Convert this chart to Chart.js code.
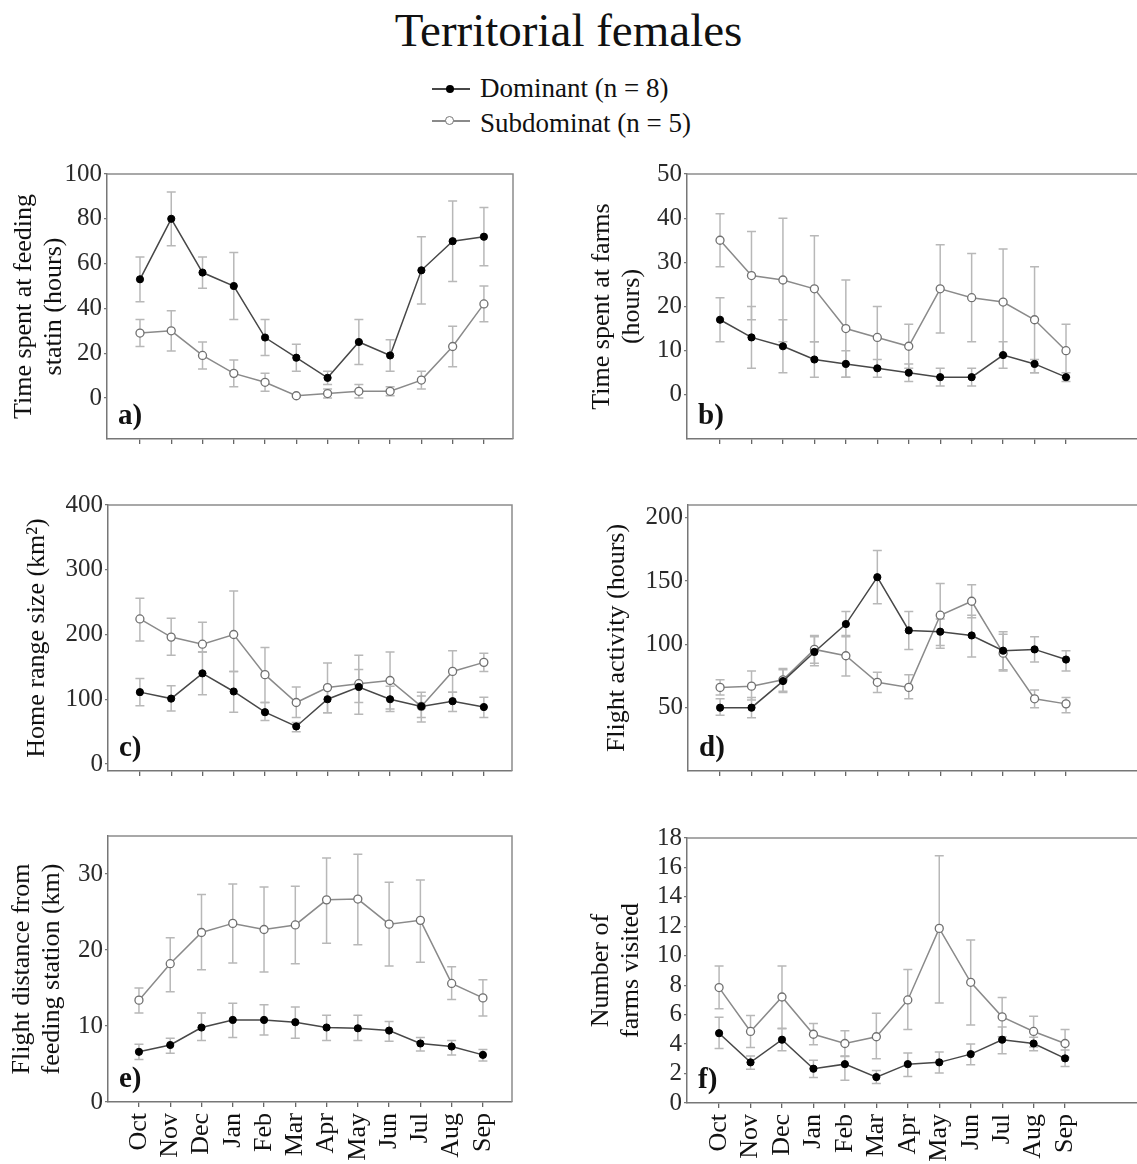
<!DOCTYPE html>
<html>
<head>
<meta charset="utf-8">
<script src="https://cdn.jsdelivr.net/npm/chart.js@4.4.1/dist/chart.umd.min.js"></script>
<style>
  html, body { margin: 0; padding: 0; background: #fff; overflow: hidden; }
  body { width: 1137px; height: 1164px; position: relative;
         font-family: "Liberation Serif", "Times New Roman", serif; color: #111; }
  #title { position: absolute; left: 0; top: 7px; width: 1137px; text-align: center;
           font-size: 47px; line-height: 47px; }
  .legText { position: absolute; left: 480px; font-size: 27px; line-height: 30px; white-space: nowrap; }
  .legLine { position: absolute; left: 432px; width: 38px; height: 1.6px; }
  .legDot { position: absolute; border-radius: 50%; box-sizing: border-box; }
  .panel { position: absolute; }
  .panel canvas { display: block; }
</style>
</head>
<body>
<div id="title">Territorial females</div>

<div class="legLine" style="top:88px;background:#474747"></div>
<div class="legDot" style="left:446px;top:85px;width:8px;height:8px;background:#000"></div>
<div class="legText" style="top:73px">Dominant (n = 8)</div>

<div class="legLine" style="top:120px;background:#8a8a8a"></div>
<div class="legDot" style="left:445px;top:116px;width:9px;height:9px;background:#fff;border:1.3px solid #777"></div>
<div class="legText" style="top:108px">Subdominat (n = 5)</div>

<script>
const SERIF = '"Liberation Serif", "Times New Roman", serif';
const months = ['Oct','Nov','Dec','Jan','Feb','Mar','Apr','May','Jun','Jul','Aug','Sep'];

// a) time spent at the feeding station (hours)
const feedDom   = [53, 80, 56, 50, 27, 18, 9, 25, 19, 57, 70, 72];
const feedDomHi = [63, 92, 63, 65, 35, 24, 12, 35, 26, 72, 88, 85];
const feedDomLo = [43, 68, 49, 35, 19, 12, 6, 15, 12, 42, 52, 59];
const feedSub   = [29, 30, 19, 11, 7, 1, 2, 3, 3, 8, 23, 42];
const feedSubHi = [35, 39, 25, 17, 11, 1.5, 4, 6, 5, 12, 32, 50];
const feedSubLo = [23, 21, 13, 5, 3, 0.5, 0, 0, 1, 4, 14, 34];
const feedTicks = [0, 20, 40, 60, 80, 100];

// b) time spent at farms (hours)
const farmDom   = [17, 13, 11, 8, 7, 6, 5, 4, 4, 9, 7, 4];
const farmDomHi = [22, 20, 17, 12, 10, 8, 7, 6, 6, 12, 8, 5];
const farmDomLo = [12, 6, 5, 4, 4, 4, 3, 2, 2, 6, 5, 3];
const farmSub   = [35, 27, 26, 24, 15, 13, 11, 24, 22, 21, 17, 10];
const farmSubHi = [41, 37, 40, 36, 26, 20, 16, 34, 32, 33, 29, 16];
const farmSubLo = [29, 17, 12, 12, 4, 6, 6, 14, 12, 9, 5, 4];
const farmTicks = [0, 10, 20, 30, 40, 50];

// c) home range size (km²)
const rangeDom   = [111, 101, 140, 112, 80, 58, 100, 119, 100, 89, 97, 88];
const rangeDomHi = [132, 121, 173, 143, 95, 64, 119, 146, 120, 105, 111, 103];
const rangeDomLo = [90, 82, 107, 80, 67, 50, 79, 95, 81, 72, 81, 72];
const rangeSub   = [224, 196, 185, 200, 138, 95, 118, 124, 129, 89, 143, 157];
const rangeSubHi = [256, 225, 219, 267, 180, 119, 156, 168, 173, 111, 175, 171];
const rangeSubLo = [190, 168, 173, 143, 95, 72, 79, 77, 85, 65, 111, 143];
const rangeTicks = [0, 100, 200, 300, 400];

// d) flight activity (hours)
const flightDom   = [50, 50, 71, 94, 116, 153, 111, 110, 107, 95, 96, 88];
const flightDomHi = [57, 58, 80, 106, 126, 174, 126, 120, 123, 110, 106, 95];
const flightDomLo = [44, 42, 62, 83, 106, 132, 96, 97, 90, 80, 86, 79];
const flightSub   = [66, 67, 72, 96, 91, 70, 66, 123, 134, 93, 57, 53];
const flightSubHi = [72, 79, 81, 107, 107, 78, 76, 148, 147, 108, 64, 58];
const flightSubLo = [60, 56, 63, 85, 75, 62, 57, 99, 121, 79, 50, 46];
const flightTicks = [50, 100, 150, 200];

// e) flight distance from the feeding station (km)
const distDom   = [6.6, 7.5, 9.8, 10.8, 10.8, 10.5, 9.8, 9.7, 9.4, 7.7, 7.3, 6.2];
const distDomHi = [7.6, 8.4, 11.7, 13.0, 12.8, 12.5, 11.4, 11.4, 10.6, 8.5, 8.1, 6.9];
const distDomLo = [5.6, 6.4, 8.1, 8.5, 8.8, 8.4, 8.1, 8.1, 8.0, 6.7, 6.2, 5.4];
const distSub   = [13.4, 18.2, 22.3, 23.5, 22.7, 23.3, 26.6, 26.7, 23.4, 23.9, 15.6, 13.7];
const distSubHi = [15.0, 21.6, 27.3, 28.7, 28.3, 28.4, 32.1, 32.6, 28.9, 29.2, 17.8, 16.1];
const distSubLo = [11.7, 14.5, 17.4, 18.3, 17.1, 18.2, 20.9, 20.7, 17.9, 18.4, 13.5, 11.3];
const distTicks = [0, 10, 20, 30];

// f) number of farms visited
const visitDom   = [4.74, 2.76, 4.3, 2.33, 2.64, 1.76, 2.64, 2.76, 3.32, 4.3, 4.04, 3.03];
const visitDomHi = [5.83, 3.2, 5.08, 2.9, 3.16, 2.2, 3.4, 3.46, 4.0, 5.17, 4.47, 3.6];
const visitDomLo = [3.7, 2.3, 3.55, 1.74, 1.54, 1.33, 1.8, 2.03, 2.6, 3.34, 3.55, 2.48];
const visitSub   = [7.84, 4.86, 7.2, 4.67, 4.04, 4.5, 7.0, 11.86, 8.2, 5.85, 4.86, 4.04];
const visitSubHi = [9.3, 5.94, 9.3, 5.4, 4.9, 6.1, 9.06, 16.8, 11.07, 7.16, 5.9, 5.0];
const visitSubLo = [6.4, 3.77, 5.04, 3.95, 3.2, 3.0, 5.0, 6.8, 5.3, 4.5, 3.8, 3.1];
const visitTicks = [0, 2, 4, 6, 8, 10, 12, 14, 16, 18];

// vertical error bars with caps, drawn beneath the lines
const errorBars = {
  id: 'errorBars',
  beforeDatasetsDraw(chart) {
    const { ctx, scales: { x, y } } = chart;
    ctx.save();
    ctx.lineWidth = 1.5;
    chart.data.datasets.forEach(ds => {
      ctx.strokeStyle = ds.errColor;
      ds.errLo.forEach((lo, i) => {
        const px = x.getPixelForValue(i);
        const p1 = y.getPixelForValue(lo);
        const p2 = y.getPixelForValue(ds.errHi[i]);
        ctx.beginPath();
        ctx.moveTo(px, p1); ctx.lineTo(px, p2);
        ctx.moveTo(px - 4.5, p1); ctx.lineTo(px + 4.5, p1);
        ctx.moveTo(px - 4.5, p2); ctx.lineTo(px + 4.5, p2);
        ctx.stroke();
      });
    });
    ctx.restore();
  }
};

// top (and, where shown, right) edge of the plot box plus the panel letter
const frame = {
  id: 'frame',
  afterDraw(chart, args, opts) {
    const { ctx, chartArea: a } = chart;
    ctx.save();
    ctx.strokeStyle = '#8c8c8c';
    ctx.lineWidth = 1.5;
    ctx.beginPath();
    ctx.moveTo(a.left, a.top); ctx.lineTo(a.right, a.top);
    if (opts.rightEdge) ctx.lineTo(a.right, a.bottom);
    ctx.stroke();
    ctx.fillStyle = '#111';
    ctx.font = 'bold 29px ' + SERIF;
    ctx.textBaseline = 'alphabetic';
    ctx.textAlign = 'left';
    ctx.fillText(opts.text, a.left + 11, a.bottom - 15);
    ctx.restore();
  }
};

const panels = [
  { tag: 'a)', title: ['Time spent at feeding', 'statin (hours)'], titlePad: 9, rightEdge: true,
    dom: feedDom, domHi: feedDomHi, domLo: feedDomLo, sub: feedSub, subHi: feedSubHi, subLo: feedSubLo,
    ticks: feedTicks, yMin: -18.3, yMax: 100, xMin: -1.055, xMax: 11.93, months: false,
    box: { left: 0, top: 150, width: 540, height: 310 }, area: { left: 107, top: 174, right: 513, bottom: 439 } },
  { tag: 'b)', title: ['Time spent at farms', '(hours)'], titlePad: 17, rightEdge: false,
    dom: farmDom, domHi: farmDomHi, domLo: farmDomLo, sub: farmSub, subHi: farmSubHi, subLo: farmSubLo,
    ticks: farmTicks, yMin: -10, yMax: 50, xMin: -1.05, xMax: 15.26, months: false,
    box: { left: 570, top: 150, width: 650, height: 310 }, area: { left: 687, top: 174, right: 1200, bottom: 439 } },
  { tag: 'c)', title: 'Home range size (km\u00B2)', titlePad: 22, rightEdge: true,
    dom: rangeDom, domHi: rangeDomHi, domLo: rangeDomLo, sub: rangeSub, subHi: rangeSubHi, subLo: rangeSubLo,
    ticks: rangeTicks, yMin: -10.8, yMax: 400, xMin: -1.02, xMax: 11.9, months: false,
    box: { left: 0, top: 480, width: 540, height: 310 }, area: { left: 108, top: 505, right: 512, bottom: 771 } },
  { tag: 'd)', title: 'Flight activity (hours)', titlePad: 32, rightEdge: false,
    dom: flightDom, domHi: flightDomHi, domLo: flightDomLo, sub: flightSub, subHi: flightSubHi, subLo: flightSubLo,
    ticks: flightTicks, yMin: 0, yMax: 210, xMin: -1.02, xMax: 15.26, months: false,
    box: { left: 570, top: 480, width: 650, height: 310 }, area: { left: 688, top: 505, right: 1200, bottom: 771 } },
  { tag: 'e)', title: ['Flight distance from', 'feeding station (km)'], titlePad: 7, rightEdge: true,
    dom: distDom, domHi: distDomHi, domLo: distDomLo, sub: distSub, subHi: distSubHi, subLo: distSubLo,
    ticks: distTicks, yMin: 0, yMax: 35, xMin: -0.99, xMax: 11.93, months: true,
    box: { left: 0, top: 810, width: 540, height: 354 }, area: { left: 108, top: 836, right: 512, bottom: 1102 } },
  { tag: 'f)', title: ['Number of', 'farms visited'], titlePad: 16, rightEdge: false,
    dom: visitDom, domHi: visitDomHi, domLo: visitDomLo, sub: visitSub, subHi: visitSubHi, subLo: visitSubLo,
    ticks: visitTicks, yMin: 0, yMax: 18, xMin: -1.02, xMax: 15.29, months: true,
    box: { left: 570, top: 810, width: 650, height: 354 }, area: { left: 687, top: 838, right: 1200, bottom: 1103 } }
];

function makePanel(p) {
  const wrap = document.createElement('div');
  wrap.className = 'panel';
  wrap.style.left = p.box.left + 'px';
  wrap.style.top = p.box.top + 'px';
  wrap.style.width = p.box.width + 'px';
  wrap.style.height = p.box.height + 'px';
  const cv = document.createElement('canvas');
  cv.width = p.box.width;
  cv.height = p.box.height;
  cv.style.width = p.box.width + 'px';
  cv.style.height = p.box.height + 'px';
  wrap.appendChild(cv);
  document.body.appendChild(wrap);

  const yWidth = p.area.left - p.box.left;
  const xHeight = p.box.top + p.box.height - p.area.bottom;
  const toPoints = arr => arr.map((v, i) => ({ x: i, y: v }));

  new Chart(cv, {
    type: 'line',
    data: {
      datasets: [
        { label: 'Dominant (n = 8)', data: toPoints(p.dom), errLo: p.domLo, errHi: p.domHi, errColor: '#b8b8b8',
          borderColor: '#474747', borderWidth: 1.5, pointRadius: 3.6, pointHoverRadius: 3.6,
          pointBackgroundColor: '#000', pointBorderColor: '#000', pointBorderWidth: 1, tension: 0 },
        { label: 'Subdominat (n = 5)', data: toPoints(p.sub), errLo: p.subLo, errHi: p.subHi, errColor: '#b8b8b8',
          borderColor: '#8a8a8a', borderWidth: 1.5, pointRadius: 4, pointHoverRadius: 4,
          pointBackgroundColor: '#fff', pointBorderColor: '#707070', pointBorderWidth: 1.3, tension: 0 }
      ]
    },
    options: {
      responsive: false,
      animation: false,
      devicePixelRatio: 1,
      events: [],
      layout: { padding: { top: p.area.top - p.box.top, right: p.box.left + p.box.width - p.area.right, left: 0, bottom: 0 } },
      plugins: { legend: { display: false }, tooltip: { enabled: false }, frame: { text: p.tag, rightEdge: p.rightEdge } },
      scales: {
        x: {
          type: 'linear', min: p.xMin, max: p.xMax,
          afterBuildTicks: s => { s.ticks = months.map((m, i) => ({ value: i })); },
          afterFit: s => { s.height = xHeight; },
          ticks: { display: p.months, autoSkip: false, minRotation: 90, maxRotation: 90, padding: 6,
                   color: '#111', font: { family: SERIF, size: 26 }, callback: v => months[v] },
          grid: { display: true, drawOnChartArea: false, drawTicks: true, tickLength: 5, color: '#666', lineWidth: 1.3 },
          border: { display: true, color: '#777', width: 1.5 }
        },
        y: {
          min: p.yMin, max: p.yMax,
          afterBuildTicks: s => { s.ticks = p.ticks.map(v => ({ value: v })); },
          afterFit: s => { s.width = yWidth; },
          ticks: { autoSkip: false, padding: 2, color: '#2a2a2a', font: { family: SERIF, size: 25 } },
          grid: { display: true, drawOnChartArea: false, drawTicks: true, tickLength: 3, color: '#777', lineWidth: 1.3 },
          border: { display: true, color: '#777', width: 1.5 },
          title: { display: true, text: p.title, color: '#111', align: 'center',
                   font: { family: SERIF, size: 26, lineHeight: 1.15 }, padding: { top: p.titlePad, bottom: 0 } }
        }
      }
    },
    plugins: [errorBars, frame]
  });
}

panels.forEach(makePanel);
</script>
</body>
</html>
